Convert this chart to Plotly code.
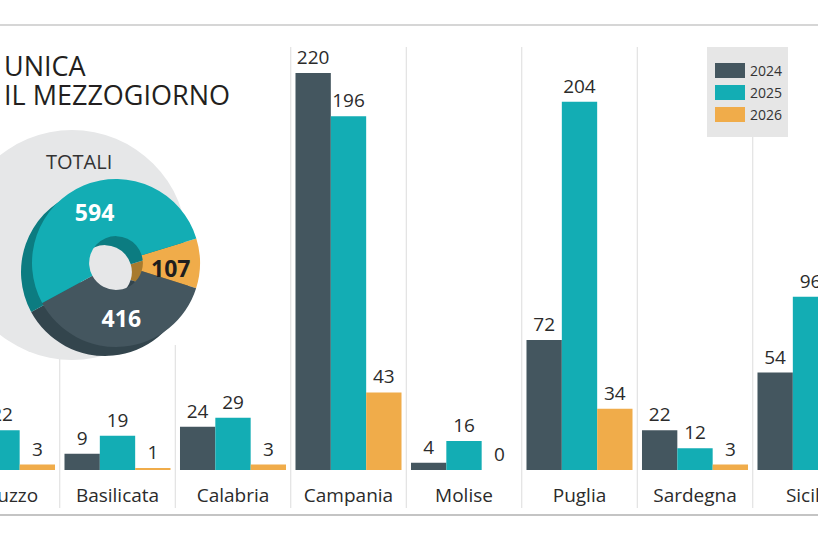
import plotly.graph_objects as go

# ---------------- data ----------------
categories = ["Abruzzo", "Basilicata", "Calabria", "Campania", "Molise", "Puglia", "Sardegna", "Sicilia"]
series_names = ["2024", "2025", "2026"]
values_2024 = [11, 9, 24, 220, 4, 72, 22, 54]
values_2025 = [22, 19, 29, 196, 16, 204, 12, 96]
values_2026 = [3, 1, 3, 43, 0, 34, 3, 20]
title_lines = ["UNICA", "IL MEZZOGIORNO"]
pie_title = "TOTALI"

colors = ["#44565f", "#13adb4", "#f0ac4a"]
side_colors = ["#33454d", "#0c7c81", "#a87b2e"]
all_series = [values_2024, values_2025, values_2026]

FONT = "Open Sans"
W, H = 818, 539
MT, MB = 19, 69
PLOT_H = H - MT - MB
SCALE = 1.805  # px per unit
YMAX = PLOT_H / SCALE


def px_x(x):
    return x / W


def px_y(y):
    return (H - MB - y) / PLOT_H


fig = go.Figure()

xs = list(range(len(categories)))
for name, vals, col in zip(series_names, all_series, colors):
    fig.add_trace(go.Bar(
        x=xs, y=vals, name=name, marker=dict(color=col, line=dict(width=0)),
        text=[str(v) for v in vals], textposition="outside",
        textfont=dict(family=FONT, size=19, color="#2b2b2b"),
        cliponaxis=True, showlegend=False, hoverinfo="skip",
    ))

# ---------------- totals donut (pseudo 3D) ----------------
totals = [sum(v) for v in all_series]
order = [2, 0, 1]  # 2026, 2024, 2025 clockwise
pie_vals = [totals[i] for i in order]
pie_cols = [colors[i] for i in order]
pie_side = [side_colors[i] for i in order]
pie_txtcol = ["#1e1e1e", "white", "white"]

cx, cy, r = 116, 263, 84
dx, dy = -11, 9
for (ox, oy, cols, show) in [(dx, dy, pie_side, False), (0, 0, pie_cols, True)]:
    fig.add_trace(go.Pie(
        values=pie_vals, labels=[series_names[i] for i in order],
        marker=dict(colors=cols, line=dict(width=0)),
        hole=0.32, sort=False, direction="clockwise", rotation=73,
        domain=dict(x=[px_x(cx + ox - r), px_x(cx + ox + r)],
                    y=[px_y(cy + oy + r), px_y(cy + oy - r)]),
        textinfo="value" if show else "none",
        # the narrow 2026 slice gets its label as an annotation (kept at full size)
        texttemplate=["", "%{value}", "%{value}"] if show else None,
        textposition="inside", insidetextorientation="horizontal",
        textfont=dict(family=FONT, size=23, color=pie_txtcol, weight="bold"),
        showlegend=False, hoverinfo="skip",
    ))

# ---------------- shapes ----------------
shapes = []
# separators between categories
for i in range(len(categories) - 1):
    top = 345 if i < 2 else 47
    shapes.append(dict(type="line", xref="x", yref="paper", x0=i + 0.5, x1=i + 0.5,
                       y0=px_y(508), y1=px_y(top), line=dict(color="#dcdcdc", width=1),
                       layer="below"))
# grey circle behind donut
shapes.append(dict(type="circle", xref="paper", yref="paper",
                   x0=px_x(72 - 115), x1=px_x(72 + 115), y0=px_y(245 + 115), y1=px_y(245 - 115),
                   fillcolor="#e6e7e8", line=dict(width=0), layer="below"))
# top / bottom rules
shapes.append(dict(type="line", xref="paper", yref="paper", x0=0, x1=1, y0=px_y(25), y1=px_y(25),
                   line=dict(color="#c8c8c8", width=1.5), layer="below"))
shapes.append(dict(type="line", xref="paper", yref="paper", x0=0, x1=1, y0=px_y(515), y1=px_y(515),
                   line=dict(color="#c4c4c4", width=2.2), layer="below"))
# legend box
shapes.append(dict(type="rect", xref="paper", yref="paper", x0=px_x(707), x1=px_x(788),
                   y0=px_y(137), y1=px_y(47), fillcolor="#e6e6e6", line=dict(width=0), layer="below"))

annotations = []
for k, (name, col) in enumerate(zip(series_names, colors)):
    yc = 70.5 + k * 22
    shapes.append(dict(type="rect", xref="paper", yref="paper", x0=px_x(715), x1=px_x(745),
                       y0=px_y(yc + 7.5), y1=px_y(yc - 7.5), fillcolor=col, line=dict(width=0),
                       layer="below"))
    annotations.append(dict(text=name, xref="paper", yref="paper", x=px_x(748), y=px_y(yc),
                            xanchor="left", yanchor="middle", showarrow=False,
                            font=dict(family=FONT, size=14, color="#333333")))

for k, line in enumerate(title_lines):
    annotations.append(dict(text=line, xref="paper", yref="paper", x=px_x(2), y=px_y(65 + k * 30),
                            xanchor="left", yanchor="middle", showarrow=False,
                            font=dict(family=FONT, size=27, color="#231f20")))
annotations.append(dict(text=pie_title, xref="paper", yref="paper", x=px_x(78.5), y=px_y(162),
                        xanchor="center", yanchor="middle", showarrow=False,
                        font=dict(family=FONT, size=20, color="#333333")))
# label of the 2026 slice
annotations.append(dict(text=str(pie_vals[0]), xref="paper", yref="paper", x=px_x(170), y=px_y(268),
                        xanchor="center", yanchor="middle", showarrow=False,
                        font=dict(family=FONT, size=23, color=pie_txtcol[0], weight="bold")))

# ---------------- layout ----------------
x_left = -2 / 115.5
x_right = x_left + W / 115.5
fig.update_layout(
    width=W, height=H,
    margin=dict(l=0, r=0, t=MT, b=MB, pad=0),
    paper_bgcolor="white", plot_bgcolor="white",
    barmode="group", bargap=0.082, bargroupgap=0,
    shapes=shapes, annotations=annotations,
    font=dict(family=FONT, color="#2b2b2b"),
    xaxis=dict(range=[x_left, x_right], tickvals=xs, ticktext=categories,
               showgrid=False, zeroline=False, showline=False, automargin=False,
               ticklabeloverflow="allow",
               ticks="outside", ticklen=8, tickcolor="rgba(0,0,0,0)",
               tickfont=dict(family=FONT, size=19, color="#2b2b2b")),
    yaxis=dict(range=[0, YMAX], visible=False, automargin=False),
)

fig.write_html("out.html", config={"displayModeBar": False},
               post_script="document.body.style.margin='0px';document.body.style.overflow='hidden';")
